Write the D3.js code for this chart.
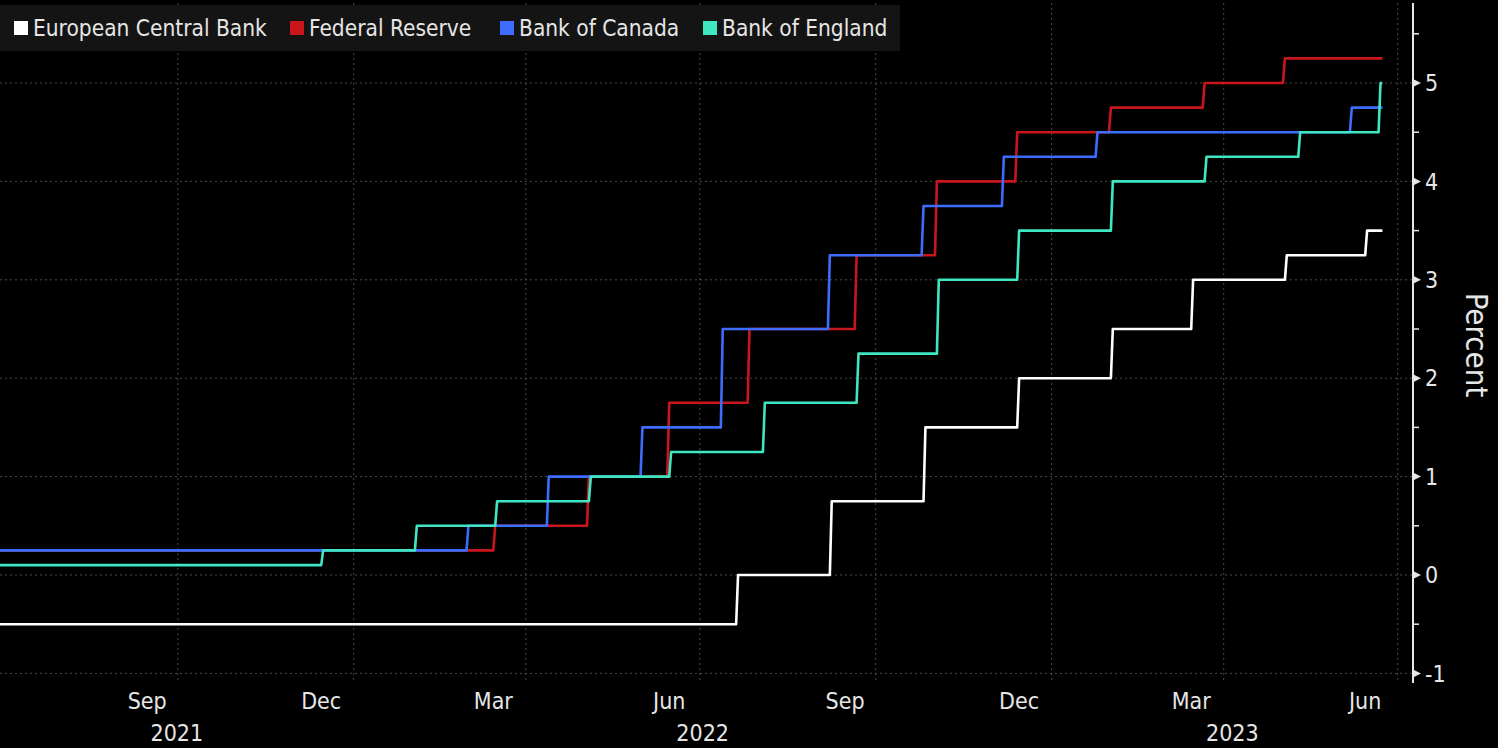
<!DOCTYPE html>
<html>
<head>
<meta charset="utf-8">
<script src="https://cdn.jsdelivr.net/npm/d3@7"></script>
<style>
  html, body { margin: 0; padding: 0; background: #000; }
  svg { display: block; font-family: "DejaVu Sans Condensed", "DejaVu Sans", sans-serif; }
  .grid line { stroke: #4a4a4a; stroke-width: 1; stroke-dasharray: 2,3; }
  .lbl { fill: #e6e6e6; }
</style>
</head>
<body>
<svg id="chart"></svg>
<script>
// policy rates, [change date, new rate]; first entry is the starting level
var ecbSteps = [["2021-06-30", -0.5], ["2022-07-21", 0], ["2022-09-08", 0.75], ["2022-10-27", 1.5],
  ["2022-12-15", 2.0], ["2023-02-02", 2.5], ["2023-03-16", 3.0], ["2023-05-04", 3.25], ["2023-06-15", 3.5]];
var fedSteps = [["2021-06-30", 0.25], ["2022-03-16", 0.5], ["2022-05-04", 1.0], ["2022-06-15", 1.75],
  ["2022-07-27", 2.5], ["2022-09-21", 3.25], ["2022-11-02", 4.0], ["2022-12-14", 4.5],
  ["2023-02-01", 4.75], ["2023-03-22", 5.0], ["2023-05-03", 5.25]];
var bocSteps = [["2021-06-30", 0.25], ["2022-03-02", 0.5], ["2022-04-13", 1.0], ["2022-06-01", 1.5],
  ["2022-07-13", 2.5], ["2022-09-07", 3.25], ["2022-10-26", 3.75], ["2022-12-07", 4.25],
  ["2023-01-25", 4.5], ["2023-06-07", 4.75]];
var boeSteps = [["2021-06-30", 0.1], ["2021-12-16", 0.25], ["2022-02-03", 0.5], ["2022-03-17", 0.75],
  ["2022-05-05", 1.0], ["2022-06-16", 1.25], ["2022-08-04", 1.75], ["2022-09-22", 2.25],
  ["2022-11-03", 3.0], ["2022-12-15", 3.5], ["2023-02-02", 4.0], ["2023-03-23", 4.25],
  ["2023-05-11", 4.5], ["2023-06-22", 5.0]];
var lastDate = "2023-06-23";

var seriesNames = ["European Central Bank", "Federal Reserve", "Bank of Canada", "Bank of England"];
var seriesColors = ["#ffffff", "#c8161c", "#3d6dff", "#3fe6c2"];
var yTicks = [-1, 0, 1, 2, 3, 4, 5];
var yMinorTicks = [-0.5, 0.5, 1.5, 2.5, 3.5, 4.5, 5.5];
var monthLabels = ["Sep", "Dec", "Mar", "Jun", "Sep", "Dec", "Mar", "Jun"];
var monthLabelDates = ["2021-09-15", "2021-12-15", "2022-03-15", "2022-06-15", "2022-09-15", "2022-12-15", "2023-03-15", "2023-06-14"];
var gridDates = ["2021-10-01", "2022-01-01", "2022-04-01", "2022-07-01", "2022-10-01", "2023-01-01", "2023-04-01", "2023-07-01"];
var yearLabels = ["2021", "2022", "2023"];

var W = 1498, H = 748;
var parse = d3.timeParse("%Y-%m-%d");
var plotLeft = 0, plotRight = 1413, plotTop = 3, plotBottom = 680;

var svg = d3.select("#chart").attr("width", W).attr("height", H);
svg.append("rect").attr("width", W).attr("height", H).attr("fill", "#000");

var x = d3.scaleTime()
  .domain([parse("2021-06-30"), parse("2023-07-09")])
  .range([plotLeft, plotRight]);
var y = d3.scaleLinear()
  .domain([0, 5])
  .range([575, 83]);

// grid
var grid = svg.append("g").attr("class", "grid");
grid.selectAll(".hg").data(yTicks).enter().append("line")
  .attr("x1", plotLeft).attr("x2", plotRight)
  .attr("y1", function(d) { return y(d); }).attr("y2", function(d) { return y(d); });
grid.selectAll(".vg").data(gridDates).enter().append("line")
  .attr("x1", function(d) { return x(parse(d)); }).attr("x2", function(d) { return x(parse(d)); })
  .attr("y1", plotTop).attr("y2", plotBottom);

// daily series: value holds until the day before a change, then moves on the change day
function toPoints(steps) {
  var pts = [];
  steps.forEach(function(s, i) {
    var dt = parse(s[0]);
    if (i > 0) pts.push({ date: d3.timeDay.offset(dt, -1), value: steps[i - 1][1] });
    pts.push({ date: dt, value: s[1] });
  });
  pts.push({ date: parse(lastDate), value: steps[steps.length - 1][1] });
  return pts;
}
var line = d3.line()
  .x(function(d) { return x(d.date); })
  .y(function(d) { return y(d.value); });

// draw order: Fed under BoC under BoE, ECB on top
var allSteps = [ecbSteps, fedSteps, bocSteps, boeSteps];
var drawOrder = [1, 2, 3, 0];
svg.append("g").selectAll("path").data(drawOrder).enter().append("path")
  .attr("d", function(i) { return line(toPoints(allSteps[i])); })
  .attr("fill", "none")
  .attr("stroke", function(i) { return seriesColors[i]; })
  .attr("stroke-width", 2.6)
  .attr("stroke-linejoin", "round");

// right axis
var ax = svg.append("g");
ax.append("line")
  .attr("x1", plotRight).attr("x2", plotRight)
  .attr("y1", plotTop).attr("y2", plotBottom + 3)
  .attr("stroke", "#e6e6e6").attr("stroke-width", 2);
ax.selectAll(".maj").data(yTicks).enter().append("path")
  .attr("d", function(d) { var yy = y(d); return "M" + plotRight + "," + (yy - 4) + "L" + (plotRight + 8) + "," + yy + "L" + plotRight + "," + (yy + 4) + "Z"; })
  .attr("fill", "#e6e6e6");
ax.selectAll(".min").data(yMinorTicks).enter().append("line")
  .attr("x1", plotRight).attr("x2", plotRight + 6)
  .attr("y1", function(d) { return y(d); }).attr("y2", function(d) { return y(d); })
  .attr("stroke", "#e6e6e6").attr("stroke-width", 1.5);
ax.selectAll("text").data(yTicks).enter().append("text")
  .attr("class", "lbl")
  .attr("x", plotRight + 12)
  .attr("y", function(d) { return y(d); })
  .attr("dy", "0.36em")
  .attr("font-size", 23)
  .text(function(d) { return d; });
svg.append("text")
  .attr("class", "lbl")
  .attr("transform", "translate(1466,345) rotate(90)")
  .attr("text-anchor", "middle")
  .attr("font-size", 31)
  .text("Percent");

// bottom axis labels
svg.append("g").selectAll("text").data(monthLabels).enter().append("text")
  .attr("class", "lbl")
  .attr("x", function(d, i) { return x(parse(monthLabelDates[i])); })
  .attr("y", 709)
  .attr("text-anchor", "middle")
  .attr("font-size", 23)
  .text(function(d) { return d; });
var yearSpans = [[x.domain()[0], parse("2022-01-01")], [parse("2022-01-01"), parse("2023-01-01")], [parse("2023-01-01"), x.domain()[1]]];
svg.append("g").selectAll("text").data(yearLabels).enter().append("text")
  .attr("class", "lbl")
  .attr("x", function(d, i) { return (x(yearSpans[i][0]) + x(yearSpans[i][1])) / 2; })
  .attr("y", 741)
  .attr("text-anchor", "middle")
  .attr("font-size", 23)
  .text(function(d) { return d; });

// legend
var legendX = [14, 290, 500, 703];
var lg = svg.append("g");
lg.append("rect").attr("x", 0).attr("y", 5).attr("width", 900).attr("height", 46).attr("fill", "#141414");
var item = lg.selectAll("g").data(seriesNames).enter().append("g")
  .attr("transform", function(d, i) { return "translate(" + legendX[i] + ",21)"; });
item.append("rect").attr("width", 14).attr("height", 14)
  .attr("fill", function(d, i) { return seriesColors[i]; });
item.append("text")
  .attr("class", "lbl")
  .attr("x", 19).attr("y", 7).attr("dy", "0.36em")
  .attr("font-size", 22.5)
  .text(function(d) { return d; });
</script>
</body>
</html>
